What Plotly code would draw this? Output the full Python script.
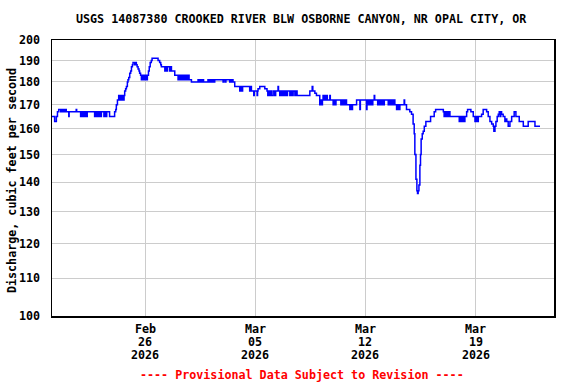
import pandas as pd
import plotly.graph_objects as go

# ---- data ----
START = "2026-02-20 00:00"
DAYS = [
    0.00, 0.26, 0.37, 0.44, 0.52, 0.58, 0.64, 0.70, 0.76, 0.82, 0.88, 0.94, 1.00,
    1.16, 1.18, 1.63, 1.66,
    1.91, 1.97, 2.03, 2.09, 2.15, 2.21, 2.27, 2.33, 2.38,
    2.80, 2.86, 2.92, 2.98, 3.04, 3.10, 3.16, 3.23,
    3.39, 3.45, 3.51, 3.57, 3.61, 3.75,
    4.07, 4.14, 4.18, 4.25, 4.33, 4.39, 4.45, 4.51, 4.57, 4.63, 4.67,
    4.71, 4.77, 4.82, 4.88, 4.92, 4.97, 5.03, 5.09, 5.14, 5.20, 5.24,
    5.35, 5.38, 5.45, 5.50, 5.56, 5.62, 5.66, 5.72,
    5.77, 5.83, 5.89, 5.95, 6.01, 6.07, 6.12, 6.15,
    6.22, 6.27, 6.33, 6.40, 6.45, 6.83, 6.93, 7.00, 7.04,
    7.26, 7.31, 7.36, 7.43, 7.57, 7.62, 7.68, 7.78, 7.89,
    8.10, 8.17, 8.24, 8.31, 8.38, 8.45, 8.52, 8.59, 8.66, 8.73, 8.80, 8.95,
    9.37, 9.44, 9.51, 9.58, 9.65, 9.72, 9.79,
    10.00, 10.07, 10.14, 10.21, 10.28, 10.35, 10.43,
    10.96, 11.00, 11.10, 11.14, 11.38, 11.42, 11.48, 11.52, 11.59, 11.70,
    12.02, 12.08, 12.14, 12.20, 12.65, 12.70, 12.76, 12.91, 12.94,
    13.12, 13.15, 13.18, 13.29, 13.61, 13.75, 13.80, 13.86, 13.92, 13.98,
    14.03, 14.14, 14.24, 14.30, 14.45, 14.48,
    14.56, 14.63, 14.70, 14.77, 14.84, 14.91, 14.98, 15.05,
    15.20, 15.27, 15.34, 15.41, 15.52, 15.59, 15.66, 15.72,
    16.47, 16.62, 16.66, 16.79, 16.89,
    17.10, 17.16, 17.22, 17.27, 17.31, 17.36, 17.42, 17.48, 17.53, 17.58,
    17.74, 17.77, 17.95, 18.01, 18.07, 18.13, 18.17,
    18.44, 18.50, 18.56, 18.62, 18.68, 18.74, 18.80,
    19.01, 19.07, 19.13, 19.18, 19.44, 19.65, 19.68, 20.07, 20.10,
    20.17, 20.23, 20.29, 20.35, 20.41, 20.47, 20.56, 20.59,
    20.78, 20.80, 20.88, 20.90, 20.98, 21.00, 21.08, 21.10, 21.18, 21.20,
    21.45, 21.52, 21.59, 21.66, 21.73, 21.80, 21.87,
    21.98, 22.05, 22.12, 22.19, 22.25, 22.46, 22.49,
    22.61, 22.82, 22.93, 23.03, 23.10, 23.14, 23.21, 23.27, 23.31, 23.35,
    23.40, 23.46, 23.50, 23.54, 23.61, 23.67, 23.74, 23.84,
    24.14, 24.37, 24.46, 24.95,
    25.00, 25.06, 25.12, 25.18, 25.24, 25.30, 25.37,
    25.96, 26.03, 26.10, 26.17, 26.24, 26.32, 26.43, 26.49, 26.70, 26.85,
    26.96, 27.03, 27.10, 27.17, 27.38, 27.48, 27.70, 27.80, 27.91,
    28.02, 28.12, 28.16, 28.23, 28.29, 28.37, 28.44,
    28.50, 28.55, 28.60, 28.65, 28.75, 28.86, 28.92, 28.98, 29.07,
    29.18, 29.29, 29.45, 29.56, 29.77, 30.03, 30.34, 30.77, 31.09,
]
CFS = [
    165, 163, 165, 167, 168, 168, 167, 168, 167, 168, 167, 168, 167,
    165, 167, 168, 167,
    165, 167, 165, 167, 165, 167, 165, 167, 167,
    165, 167, 165, 167, 165, 167, 165, 167,
    165, 167, 165, 167, 167, 165,
    167, 168, 170, 172, 174, 172, 174, 172, 174, 172, 174,
    176, 177, 178, 180, 181, 182, 184, 185, 187, 188, 189,
    188, 189, 188, 187, 186, 185, 184, 183,
    181, 183, 181, 183, 181, 183, 181, 183,
    185, 187, 189, 190, 191, 190, 189, 188, 187,
    185, 187, 185, 187, 185, 187, 185, 185, 183,
    181, 183, 181, 183, 181, 183, 181, 183, 181, 183, 181, 180,
    181, 180, 181, 180, 181, 180, 180,
    181, 180, 181, 180, 181, 180, 181,
    180, 181, 180, 181, 180, 181, 180, 181, 180, 178,
    176, 178, 176, 178, 176, 178, 176, 174, 176,
    174, 176, 177, 178, 177, 176, 174, 176, 174, 176,
    174, 176, 174, 176, 178, 176,
    174, 176, 174, 176, 174, 176, 174, 176,
    174, 176, 174, 176, 174, 176, 174, 174,
    176, 178, 176, 175, 174,
    170, 172, 170, 172, 174, 172, 174, 172, 174, 172,
    174, 172, 170, 172, 170, 172, 172,
    170, 172, 170, 172, 170, 172, 170,
    168, 170, 168, 170, 172, 168, 172, 168, 172,
    170, 172, 170, 172, 170, 172, 174, 172,
    170, 172, 170, 172, 170, 172, 170, 172, 170, 172,
    170, 172, 170, 172, 170, 172, 170,
    168, 170, 168, 170, 170, 172, 170,
    168, 167, 166, 162, 158, 150, 141, 137, 136, 137,
    139, 146, 150, 156, 158, 159, 161, 163,
    165, 167, 168, 167,
    165, 167, 165, 167, 165, 167, 165,
    163, 165, 163, 165, 163, 165, 167, 168, 167, 165,
    163, 165, 163, 165, 166, 168, 167, 165, 163,
    162, 161, 159, 161, 163, 165, 166,
    167, 165, 167, 166, 165, 163, 164, 163, 161,
    163, 165, 167, 165, 163, 161, 163, 161, 161,
]
Y_TICKS = [100, 110, 120, 130, 140, 150, 160, 170, 180, 190, 200]
X_TICK_DATES = ["2026-02-26", "2026-03-05", "2026-03-12", "2026-03-19"]
X_TICK_MONTH = ["Feb", "Mar", "Mar", "Mar"]
X_TICK_DAY = ["26", "05", "12", "19"]
X_TICK_YEAR = ["2026", "2026", "2026", "2026"]
X_RANGE = ["2026-02-20 02:14", "2026-03-23 23:30"]
TITLE = "USGS 14087380 CROOKED RIVER BLW OSBORNE CANYON, NR OPAL CITY, OR"
Y_TITLE = "Discharge, cubic feet per second"
NOTE = "---- Provisional Data Subject to Revision ----"

times = pd.Timestamp(START) + pd.to_timedelta(DAYS, unit="D")

FONT = "DejaVu Sans Mono"
FS = 11.7


def bold(color="black"):
    return dict(family=FONT, size=FS, color=color, weight="bold")


fig = go.Figure()
fig.add_trace(go.Scatter(
    x=times, y=CFS, mode="lines", line=dict(color="#0000FF", width=1.5, shape="hv"),
    hoverinfo="skip", showlegend=False,
))

fig.update_layout(
    width=576, height=384,
    margin=dict(l=52, r=22, t=40, b=68),
    paper_bgcolor="white", plot_bgcolor="white",
    font=bold(),
    showlegend=False,
)
fig.update_xaxes(
    type="date", range=X_RANGE,
    tickvals=X_TICK_DATES, showticklabels=False,
    showgrid=True, gridcolor="#CCCCCC", gridwidth=1,
    showline=True, linecolor="black", linewidth=1.5, mirror=True,
    ticks="",
)
fig.update_yaxes(
    type="log", range=[2, 2.30103],
    tickvals=Y_TICKS, ticktext=[str(v) for v in Y_TICKS],
    showgrid=True, gridcolor="#CCCCCC", gridwidth=1,
    showline=True, linecolor="black", linewidth=1.5, mirror=True,
    ticks="", ticklabelstandoff=8,
    tickfont=bold(),
)

# x tick labels: three lines each, 13 px apart
for d, m, dd, yy in zip(X_TICK_DATES, X_TICK_MONTH, X_TICK_DAY, X_TICK_YEAR):
    for txt, ypx in ((m, 329), (dd, 342), (yy, 355)):
        fig.add_annotation(text=txt, xref="x", yref="paper", x=d,
                           y=(316 - ypx) / 276, xanchor="center", yanchor="middle",
                           showarrow=False, font=bold())

fig.add_annotation(text=TITLE, xref="paper", yref="paper", x=0.498, y=(316 - 19) / 276,
                   xanchor="center", yanchor="middle", showarrow=False, font=bold())
fig.add_annotation(text=Y_TITLE, xref="paper", yref="paper", x=(12 - 52) / 502, y=0.489,
                   xanchor="center", yanchor="middle", showarrow=False, textangle=-90,
                   font=bold())
fig.add_annotation(text=NOTE, xref="paper", yref="paper", x=0.498, y=(316 - 375) / 276,
                   xanchor="center", yanchor="middle", showarrow=False,
                   font=bold("#FF0000"))

fig.write_html("out.html", config={"displayModeBar": False, "staticPlot": True},
               post_script="document.body.style.margin='0';document.body.style.overflow='hidden';")
